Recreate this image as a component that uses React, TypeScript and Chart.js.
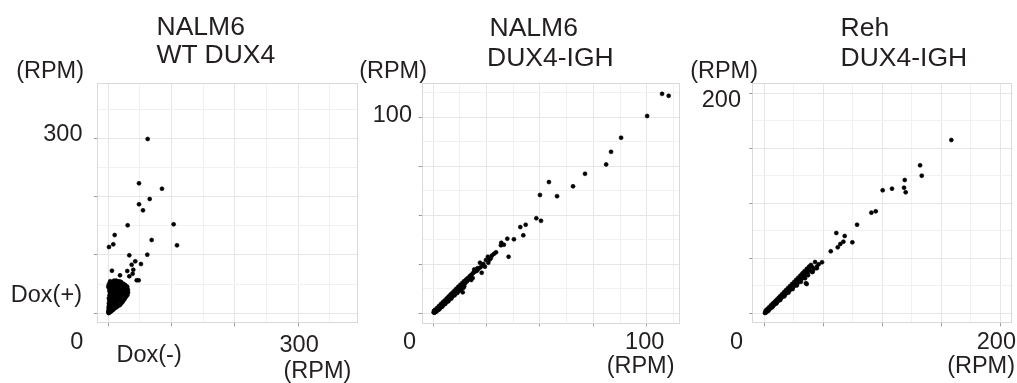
import React, { useEffect, useRef } from "react";
import { Chart, registerables } from "chart.js";

Chart.register(...registerables);

// ---------- Panel 1: NALM6 WT DUX4 (x = Dox(-) RPM, y = Dox(+) RPM) ----------
const p1X = [
  62.2, 48.5, 84.8, 65.4, 48.5, 54.8, 30.6, 103.2, 10.1, 68.5, 7.9, 1.1, 108.5, 33.2, 61.6, 42.6, 36.9, 51.6, 5.8, 30, 39.5, 18.5, 38.5, 33.2, 44.8, 48,
  0.5, 1, 0.5, 1.5, 2.5, 1, 2, 3, 0.5, 3.5, 5,
  1, 2.5, 4, 5, 1.5, 3, 6, 0.5, 4.5, 8, 10,
  2, 7, 5.5, 1, 3.5, 8, 6, 2.5, 9.5, 13, 15,
  4.5, 11, 1, 7.5, 3, 12, 9, 5.5, 18, 20,
  1.5, 14, 7, 10.5, 3.5, 16, 12.5, 6, 22, 24,
  1, 18, 9, 14.5, 4, 20, 11.5, 7, 17, 26, 28,
  2, 22, 14, 9.5, 25, 19, 5, 12, 27, 16, 30,
  2.5, 23, 8, 29, 19.5, 13, 26, 4.5, 31, 10, 16.5, 31,
  22, 7, 28, 1.5, 13.5, 19, 25, 10, 30, 30,
  4.5, 16, 22, 27, 7.5, 12.5, 19, 1.5, 28,
  4, 10, 16, 24, 7.9, 14.2, 18.5, 12, 3, 0, 9.5, 16.9, 23.7, 30.6,
  2, 4, 6, 8, 3, 5, 7, 9, 11, 2, 4, 6, 10, 12, 14, 3, 5, 9, 13, 15, 17, 2, 6, 8, 11, 16, 19, 21,
  4, 8, 12, 15, 20, 23, 25, 3, 6, 10, 14, 18, 21, 24, 27, 29, 5, 9, 13, 17, 21, 24, 26, 29,
  3, 6, 9, 12, 15, 18, 21, 24, 27, 5, 8, 11, 14, 17, 20, 23, 26, 6, 10, 14, 18, 21, 9, 13, 17, 20,
  7, 11, 15, 19, 5, 9, 13, 17, 22, 6, 10, 14, 18, 22, 26, 8, 12, 16, 20, 24, 11, 15, 19, 23, 2, 4, 1, 3,
];
const p1Y = [
  298.8, 222.9, 213.6, 196, 186.9, 176.6, 150.9, 152.6, 134.2, 125.7, 118.3, 113.7, 116.6, 99.4, 100.5, 89.1, 83.3, 84.5, 73, 72.5, 74.7, 65.1, 67.9, 63.4, 56.6, 56.6,
  0.5, 1, 2, 2.5, 2, 3.5, 4, 3.5, 4.5, 5, 4,
  6, 6.5, 6, 7.5, 8, 8.5, 9, 9.5, 10, 6.5, 8.5,
  11, 11, 12, 12.5, 13, 13.5, 14.5, 15, 15, 10.5, 12.5,
  16, 16.5, 17, 17.5, 18.5, 19, 19.5, 20, 14, 16.5,
  21, 21.5, 22, 22.5, 23, 23.5, 24.5, 25, 19, 22,
  26, 26, 26.5, 27, 28, 28, 28.5, 29.5, 30, 25, 28.5,
  31, 31, 31.5, 32, 33, 33, 33.5, 34, 35, 35, 31,
  36, 36.5, 37, 37.5, 38, 38.5, 39, 39.5, 40, 40, 40.5, 36,
  41.5, 42, 42.5, 43, 43, 44, 44.5, 45, 45.5, 41,
  46, 46.5, 47, 48, 48.5, 49, 49.5, 47, 46,
  51, 51.5, 52, 50.5, 54.2, 54.2, 52.5, 56, 55, 45.6, 52.5, 52.5, 48.5, 34.3,
  2.5, 3, 5, 7, 7, 9, 10.5, 12, 14, 14, 15.5, 17, 17, 18, 20, 20.5, 21.5, 22, 23, 24, 25, 26, 27, 27.5, 29, 29.5, 30.5, 32,
  31, 32.5, 33, 34, 34.5, 35.5, 36, 37.5, 38, 38, 39, 38.5, 39.5, 41, 40.5, 42, 42, 43, 44.5, 43, 44, 46, 45, 44,
  48, 47.5, 47, 47.5, 48, 47, 46, 45.5, 45, 50, 50.5, 50, 50.5, 49.5, 50, 49, 48.5, 53, 53.5, 53, 52, 51, 56, 55.5, 55, 54,
  16, 18.5, 20.5, 23, 25.5, 26.5, 29, 31, 33.5, 35, 35.5, 36.5, 38, 41, 41.5, 43, 44, 44.5, 45.5, 46.5, 40.5, 41.5, 42.5, 39, 39, 41, 50, 53,
];
const p1Grid = [0, 50, 100, 150, 200, 250, 300, 350];

// ---------- Panel 2: NALM6 DUX4-IGH ----------
const p2X = [
  107.2, 110.3, 100.2, 88.0, 83.3, 81.0, 71.1, 54.2, 65.5, 50.0, 58.0, 48.3, 50.5, 43.3, 40.8, 42.2, 34.7, 37.8, 31.9, 31.7, 33.1, 29.4, 35.3,
  0.2, 0.5, 0.8, 1.0, 1.3, 1.6, 2.0, 2.3, 2.6, 3.0, 3.3, 3.7, 4.0, 4.4, 4.8, 5.2, 5.5, 5.9, 6.3, 6.7, 7.0, 7.4, 7.8, 8.2, 8.6, 9.0, 9.4, 9.8,
  10.2, 10.6, 11.0, 11.5, 12.0, 12.4, 12.9, 13.4, 14.0, 14.5, 15.0, 15.7, 16.4, 17.5, 18.5, 18.8, 19.2, 19.1, 20.0, 21.0, 21.9, 22.7, 23.0,
  24.2, 24.7, 25.6, 25.8, 26.5, 27.5, 13.8, 14.1, 16.0, 17.0,
  0.9, 1.8, 2.7, 3.6, 4.5, 5.4, 6.3, 7.2, 8.1, 9.0, 9.9, 10.8, 11.7, 12.6, 13.5, 14.4, 15.3, 16.2, 17.1, 18.0, 19.8, 20.7, 22.0,
  0.4, 1.5, 2.9, 4.2, 5.6, 7.1, 8.5, 10.0, 11.3, 12.8, 14.2, 15.8, 17.8, 20.5, 23.5, 27.0, 28.5,
];
const p2Y = [
  112.0, 111.0, 100.7, 89.6, 82.4, 76.0, 71.2, 67.0, 64.8, 60.4, 59.8, 48.5, 47.2, 45.2, 44.0, 39.8, 38.1, 37.8, 36.0, 34.7, 35.0, 31.1, 28.9,
  0.5, 0.3, 1.0, 0.6, 1.5, 1.2, 2.1, 1.7, 2.8, 2.6, 3.5, 3.2, 4.3, 3.9, 5.0, 4.7, 5.8, 5.4, 6.6, 6.2, 7.4, 7.0, 8.2, 7.7, 9.0, 8.6, 9.8, 9.3,
  10.7, 10.2, 11.5, 11.0, 12.4, 11.9, 13.3, 12.9, 14.2, 13.8, 15.4, 17.3, 17.9, 19.2, 18.0, 20.7, 22.4, 21.0, 21.5, 22.5, 25.8, 20.7, 24.2,
  23.8, 27.2, 28.9, 25.8, 27.5, 29.5, 10.7, 14.9, 16.8, 17.6,
  1.8, 2.7, 3.7, 4.7, 5.7, 6.6, 7.6, 8.6, 9.6, 10.5, 11.5, 12.5, 13.5, 14.4, 15.4, 16.3, 17.1, 17.9, 18.9, 19.8, 21.9, 23.0, 23.4,
  1.3, 1.0, 2.1, 3.4, 4.8, 6.1, 7.5, 9.2, 10.4, 11.9, 13.1, 16.3, 17.0, 21.8, 25.2, 28.2, 30.4,
];
const p2Grid = [0, 12.5, 25, 37.5, 50, 62.5, 75, 87.5, 100, 112.5];

// ---------- Panel 3: Reh DUX4-IGH ----------
const p3X = [
  158.5, 132, 133.4, 119, 118.4, 119.8, 100.3, 108.2, 90.7, 94.4, 78.6, 61, 68.1, 67, 64.4, 62.2, 74.6, 56.3, 48.9, 43, 44.4, 40.2, 41, 35.9,
  0.5, 1.0, 1.5, 2.0, 2.5, 3.0, 3.5, 4.0, 4.6, 5.2, 5.8, 6.4, 7.0, 7.6, 8.2, 8.8, 9.4, 10.0, 10.6, 11.2, 11.8, 12.4, 13.0, 13.7, 14.3,
  15.0, 15.7, 16.4, 17.1, 17.8, 18.5, 19.3, 20.0, 20.8, 21.6, 22.4, 23.2, 24.0, 24.9, 25.8, 26.7, 27.6, 28.5, 29.5, 30.4, 31.4, 32.4,
  33.4, 34.4, 35.5, 36.5, 37.6, 38.7, 35.3, 39.5, 42.0, 46.0,
  1.2, 2.8, 4.3, 5.9, 7.4, 9.0, 10.5, 12.1, 13.6, 15.2, 16.8, 18.4, 20.1, 21.8, 23.5, 25.3, 27.0, 28.8, 30.6, 32.3, 34.0, 36.0, 38.0,
  3.5, 6.8, 10.2, 13.5, 17.0, 20.5, 24.0, 27.5, 31.0, 34.5, 37.0, 40.5, 44.5,
];
const p3Y = [
  157.5, 134.5, 125.1, 121.2, 114.2, 110, 111.8, 113.3, 91.5, 92.7, 80.5, 73, 70.3, 65.1, 63, 60, 64.5, 56.4, 46.4, 46.6, 42.4, 42.4, 37.8, 26.6,
  0.3, 1.2, 0.8, 2.2, 1.8, 3.3, 2.9, 4.4, 4.0, 5.6, 5.1, 6.9, 6.4, 8.1, 7.6, 9.4, 8.9, 10.7, 10.1, 12.0, 11.3, 13.3, 12.6, 14.6, 13.9,
  16.0, 15.2, 17.5, 16.6, 19.0, 18.0, 20.6, 19.5, 22.2, 21.0, 23.9, 22.6, 25.6, 24.3, 27.4, 26.0, 29.3, 27.8, 31.4, 29.9, 33.5, 32.0,
  35.7, 34.2, 37.8, 36.5, 40.0, 38.8, 27.3, 44.0, 40.5, 44.5,
  2.6, 4.2, 5.8, 7.5, 9.1, 10.8, 12.4, 14.1, 15.8, 17.5, 19.3, 21.1, 22.9, 24.7, 26.6, 28.5, 30.4, 32.4, 34.3, 36.3, 38.3, 40.4, 42.5,
  2.4, 5.6, 8.9, 12.1, 15.4, 18.8, 22.0, 25.3, 28.6, 31.9, 34.6, 37.5, 41.0,
];
const p3Grid = [0, 25, 50, 75, 100, 125, 150, 175, 200];

// ---------- text ----------
const FONT = "'Liberation Sans', Arial, Helvetica, sans-serif";
const TEXT_COLOR = "#231f20";

type Txt = { t: string; x: number; base: number; size: number; right?: boolean };
const LABELS: Txt[] = [
  // panel 1
  { t: "NALM6", x: 156.5, base: 35, size: 26.5 },
  { t: "WT DUX4", x: 156.5, base: 63.5, size: 26.5 },
  { t: "(RPM)", x: 84, base: 79, size: 23.5, right: true },
  { t: "300", x: 82.5, base: 142.3, size: 23.5, right: true },
  { t: "Dox(+)", x: 82, base: 303.3, size: 23.5, right: true },
  { t: "0", x: 83.3, base: 349.5, size: 23.5, right: true },
  { t: "Dox(-)", x: 116.5, base: 363.3, size: 23.5 },
  { t: "300", x: 279.5, base: 353, size: 23.5 },
  { t: "(RPM)", x: 283.5, base: 378.5, size: 23.5 },
  // panel 2
  { t: "NALM6", x: 489.5, base: 36, size: 26.5 },
  { t: "DUX4-IGH", x: 487, base: 66, size: 26.5 },
  { t: "(RPM)", x: 427, base: 79, size: 23.5, right: true },
  { t: "100", x: 412, base: 123.3, size: 23.5, right: true },
  { t: "0", x: 416, base: 350, size: 23.5, right: true },
  { t: "100", x: 664.3, base: 350, size: 23.5, right: true },
  { t: "(RPM)", x: 674.5, base: 374, size: 23.5, right: true },
  // panel 3
  { t: "Reh", x: 840.5, base: 36, size: 26.5 },
  { t: "DUX4-IGH", x: 840.5, base: 66, size: 26.5 },
  { t: "(RPM)", x: 758, base: 78.5, size: 23.5, right: true },
  { t: "200", x: 741, base: 108.3, size: 23.5, right: true },
  { t: "0", x: 743, base: 350, size: 23.5, right: true },
  { t: "200", x: 1016, base: 350, size: 23.5, right: true },
  { t: "(RPM)", x: 1015, base: 374, size: 23.5, right: true },
];

// ---------- chart plumbing ----------
const H = 383;

const framePlugin = {
  id: "frame",
  beforeDatasetsDraw(chart: any) {
    const { ctx, chartArea: a } = chart;
    ctx.save();
    ctx.strokeStyle = "#d9d9d9";
    ctx.lineWidth = 1;
    ctx.strokeRect(Math.round(a.left) + 0.5, Math.round(a.top) + 0.5, Math.round(a.right - a.left) - 1, Math.round(a.bottom - a.top) - 1);
    ctx.restore();
  },
};

function isMajor(v: number | undefined, major: number) {
  if (v === undefined) return false;
  const r = v / major;
  return Math.abs(r - Math.round(r)) < 1e-6;
}

function makeAxis(min: number, max: number, grid: number[], major: number, dir: "x" | "y") {
  return {
    type: "linear" as const,
    min,
    max,
    afterBuildTicks: (s: any) => {
      s.ticks = grid.map((v) => ({ value: v }));
    },
    afterFit: (s: any) => {
      if (dir === "x") s.height = 0;
      else s.width = 0;
    },
    ticks: { display: false },
    border: { display: false },
    grid: {
      color: (c: any) => (isMajor(c.tick?.value, major) ? "#e6e6e6" : "#f1f1f1"),
      lineWidth: 1,
      drawTicks: true,
      tickLength: 3,
      tickColor: (c: any) => (isMajor(c.tick?.value, major) ? "#9a9a9a" : "rgba(0,0,0,0)"),
    },
  };
}

type PanelProps = {
  xs: number[];
  ys: number[];
  grid: number[];
  major: number;
  xr: [number, number];
  yr: [number, number];
  left: number;
  width: number;
  area: { l: number; t: number; r: number; b: number };
};

function Panel({ xs, ys, grid, major, xr, yr, left, width, area }: PanelProps) {
  const ref = useRef<HTMLCanvasElement | null>(null);
  useEffect(() => {
    if (!ref.current) return;
    const chart = new Chart(ref.current, {
      type: "scatter",
      data: {
        datasets: [
          {
            data: xs.map((x, i) => ({ x, y: ys[i] })),
            pointRadius: 2,
            pointHoverRadius: 2,
            pointBackgroundColor: "#000",
            pointBorderColor: "#000",
            pointBorderWidth: 0.6,
          },
        ],
      },
      options: {
        animation: false,
        responsive: false,
        events: [],
        layout: {
          padding: { left: area.l - left, top: area.t, right: left + width - area.r, bottom: H - area.b },
        },
        plugins: { legend: { display: false }, tooltip: { enabled: false }, title: { display: false } },
        scales: {
          x: makeAxis(xr[0], xr[1], grid, major, "x"),
          y: makeAxis(yr[0], yr[1], grid, major, "y"),
        },
      } as any,
      plugins: [framePlugin],
    });
    return () => chart.destroy();
  }, []);
  return (
    <canvas
      ref={ref}
      width={width}
      height={H}
      style={{ position: "absolute", left, top: 0, width, height: H }}
    />
  );
}

export default function App() {
  return (
    <div
      style={{
        position: "absolute",
        left: 0,
        top: 0,
        width: 1017,
        height: H,
        background: "#fff",
        fontFamily: FONT,
        color: TEXT_COLOR,
        overflow: "hidden",
      }}
    >
      <Panel xs={p1X} ys={p1Y} grid={p1Grid} major={100} xr={[-17.8, 393.8]} yr={[-17.1, 394.3]} left={0} width={385} area={{ l: 97, t: 83.3, r: 357.7, b: 323.3 }} />
      <Panel xs={p2X} ys={p2Y} grid={p2Grid} major={25} xr={[-5.4, 115.6]} yr={[-5.1, 117.7]} left={385} width={335} area={{ l: 421.7, t: 82.7, r: 680, b: 323.3 }} />
      <Panel xs={p3X} ys={p3Y} grid={p3Grid} major={50} xr={[-10.2, 210.5]} yr={[-9.1, 209.1]} left={720} width={297} area={{ l: 752.3, t: 83.3, r: 1012.7, b: 323.3 }} />
      {LABELS.map((l, i) => (
        <div
          key={i}
          style={{
            position: "absolute",
            left: l.x,
            top: l.base - 0.8465 * l.size,
            fontSize: l.size,
            lineHeight: `${l.size}px`,
            whiteSpace: "nowrap",
            transform: l.right ? "translateX(-100%)" : undefined,
          }}
        >
          {l.t}
        </div>
      ))}
    </div>
  );
}
